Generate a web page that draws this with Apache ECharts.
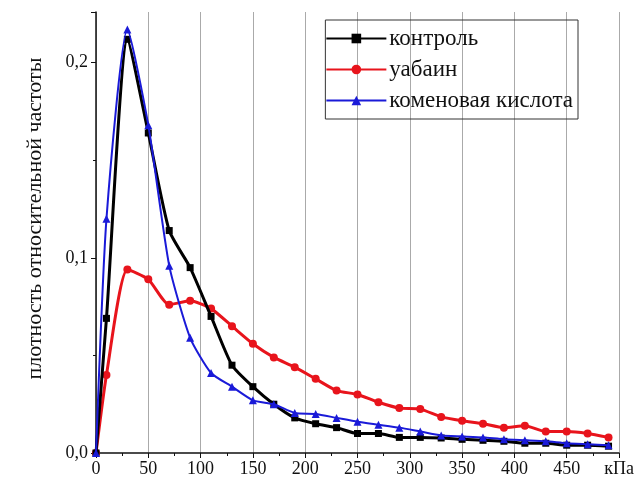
<!DOCTYPE html>
<html>
<head>
<meta charset="utf-8">
<script src="https://cdn.jsdelivr.net/npm/echarts@6/dist/echarts.min.js"></script>
<style>
  html, body { margin: 0; padding: 0; background: #fff; }
  #chart { width: 640px; height: 490px; }
</style>
</head>
<body>
<div id="chart"></div>
<script>
// давление, кПа
const pressure = [0, 10, 30, 50, 70, 90, 110, 130, 150, 170, 190, 210, 230, 250, 270, 290, 310, 330, 350, 370, 390, 410, 430, 450, 470, 490];

const control = [0, 0.069, 0.212, 0.164, 0.114, 0.095, 0.070, 0.045, 0.034, 0.025, 0.018, 0.015, 0.013, 0.010, 0.010, 0.008, 0.008, 0.0077, 0.007, 0.0065, 0.006, 0.005, 0.005, 0.004, 0.004, 0.0035];
const ouabain = [0, 0.040, 0.094, 0.089, 0.076, 0.078, 0.074, 0.065, 0.056, 0.049, 0.044, 0.038, 0.032, 0.030, 0.026, 0.023, 0.0225, 0.0185, 0.0165, 0.015, 0.013, 0.014, 0.011, 0.011, 0.010, 0.008];
const comenic = [0, 0.120, 0.217, 0.168, 0.096, 0.059, 0.041, 0.034, 0.027, 0.025, 0.0205, 0.020, 0.018, 0.016, 0.0145, 0.013, 0.011, 0.009, 0.0085, 0.008, 0.007, 0.0065, 0.006, 0.005, 0.0045, 0.004];

const seriesNames = ['контроль', 'уабаин', 'коменовая кислота'];
const font = 'Liberation Serif';

const pairs = (ys) => pressure.map((x, i) => [x, ys[i]]);

const chart = echarts.init(document.getElementById('chart'));

chart.setOption({
    animation: false,
    textStyle: { fontFamily: font },
    grid: { left: 96, right: 21, top: 12, bottom: 37 },
    legend: {
        right: 62,
        top: 20,
        orient: 'vertical',
        itemWidth: 60,
        itemHeight: 12,
        itemGap: 8,
        padding: [7, 5, 7, 0],
        borderColor: '#333',
        borderWidth: 1,
        textStyle: { fontFamily: font, fontSize: 23, color: '#111', lineHeight: 23, padding: [0, 0, 0, -2] },
        data: seriesNames
    },
    xAxis: {
        type: 'value',
        min: 0,
        max: 500,
        interval: 50,
        axisLine: { lineStyle: { color: '#111', width: 1.5 } },
        axisTick: { lineStyle: { color: '#111' }, length: 5 },
        minorTick: { show: true, splitNumber: 2, length: 3, lineStyle: { color: '#111' } },
        splitLine: { show: true, lineStyle: { color: '#aaa', width: 1 } },
        axisLabel: {
            fontFamily: font,
            fontSize: 18,
            color: '#111',
            margin: 7,
            formatter: (v) => v === 500 ? 'кПа' : String(v)
        }
    },
    yAxis: {
        type: 'value',
        min: 0,
        max: 0.226,
        interval: 0.1,
        name: 'плотность относительной частоты',
        nameLocation: 'middle',
        nameGap: 50,
        nameTextStyle: { fontFamily: font, fontSize: 22, color: '#111', padding: [0, 0, 0, 28] },
        axisLine: { show: true, lineStyle: { color: '#111', width: 1.5 } },
        axisTick: { show: true, lineStyle: { color: '#111' }, length: 5 },
        minorTick: { show: true, splitNumber: 2, length: 3, lineStyle: { color: '#111' } },
        splitLine: { show: false },
        axisLabel: {
            fontFamily: font,
            fontSize: 18,
            color: '#111',
            margin: 8,
            showMaxLabel: false,
            formatter: (v) => v.toFixed(1).replace('.', ',')
        }
    },
    series: [
        {
            name: seriesNames[0],
            type: 'line',
            data: pairs(control),
            smooth: 0.2,
            symbol: 'rect',
            symbolSize: 7,
            color: '#000',
            lineStyle: { width: 3 },
            z: 3
        },
        {
            name: seriesNames[1],
            type: 'line',
            data: pairs(ouabain),
            smooth: 0.2,
            symbol: 'circle',
            symbolSize: 8,
            color: '#e8141c',
            lineStyle: { width: 3 },
            z: 2
        },
        {
            name: seriesNames[2],
            type: 'line',
            data: pairs(comenic),
            smooth: 0.2,
            symbol: 'triangle',
            symbolSize: 8,
            color: '#1a1ad8',
            lineStyle: { width: 2 },
            z: 4
        }
    ]
});
</script>
</body>
</html>
